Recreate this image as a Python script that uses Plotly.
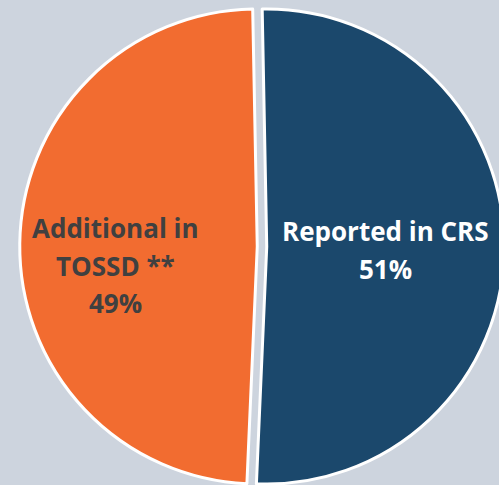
import plotly.graph_objects as go

labels = ["Reported in CRS", "Additional in<br>TOSSD **"]
values = [51, 49]
colors = ["#1B486C", "#F26C30"]
text_colors = ["#FFFFFF", "#404040"]
# centre x and first-line centre y of each label, in pixels
label_pos = [(385, 231), (115, 228)]
line_step = 37.5

# the pie runs slightly past the right and bottom edges of the 499x485 view
W, H = 505, 489
cx, cy, half = 262, 246.5, 242.25

fig = go.Figure()
fig.add_trace(go.Pie(
    labels=labels,
    values=values,
    sort=False,
    direction="clockwise",
    rotation=-1.1,
    pull=[0.02, 0.02],
    textinfo="none",
    hoverinfo="label+percent",
    marker=dict(colors=colors, line=dict(color="white", width=3)),
    domain=dict(x=[(cx - half) / W, min(1, (cx + half) / W)],
                y=[max(0, 1 - (cy + half) / H), 1 - (cy - half) / H]),
    showlegend=False,
))

total = sum(values)
for lab, val, col, (px_, py_) in zip(labels, values, text_colors, label_pos):
    lines = lab.split("<br>") + [f"{round(100 * val / total)}%"]
    for i, line in enumerate(lines):
        fig.add_annotation(
            x=px_ / W, y=1 - (py_ + i * line_step) / H,
            xref="paper", yref="paper",
            xanchor="center", yanchor="middle",
            text=f"<b>{line}</b>",
            showarrow=False, align="center",
            font=dict(family="Open Sans", size=26, color=col),
        )

fig.update_layout(
    width=W, height=H,
    margin=dict(l=0, r=0, t=0, b=0),
    paper_bgcolor="#CDD4DE",
    plot_bgcolor="#CDD4DE",
)

fig.write_html("out.html", config={"displayModeBar": False},
               post_script="document.body.style.margin='0';"
                           "document.body.style.overflow='hidden';")
